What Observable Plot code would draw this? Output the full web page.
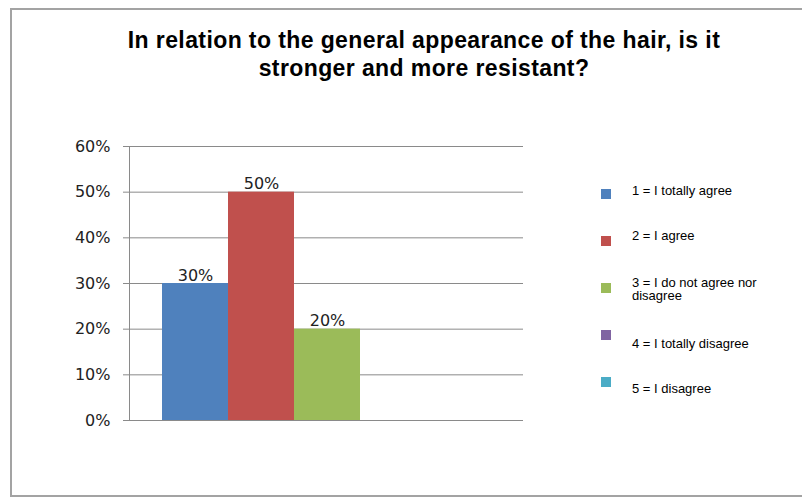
<!DOCTYPE html>
<html>
<head>
<meta charset="utf-8">
<script src="https://cdn.jsdelivr.net/npm/d3@7"></script>
<script src="https://cdn.jsdelivr.net/npm/@observablehq/plot@0.6"></script>
<style>
  html, body { margin: 0; padding: 0; background: #fff; overflow: hidden; }
  #wrap { position: relative; width: 802px; height: 498px; overflow: hidden; background: #fff; }
  #border { position: absolute; left: 10px; top: 8px; width: 830px; height: 489px;
            border: 2px solid #a3a3a3; box-sizing: border-box; }
  #title { position: absolute; left: 0; top: 26px; width: 848px; text-align: center;
           font-family: "Liberation Sans", Arial, sans-serif; font-weight: bold;
           font-size: 23px; line-height: 28px; color: #000; letter-spacing: 0.4px; }
  #chart { position: absolute; left: 0; top: 0; }
  #legend { position: absolute; left: 601px; top: 189px;
            font-family: "Liberation Sans", Arial, sans-serif; font-size: 13px; line-height: 13px; color: #000; }
  .item { position: relative; height: 47px; }
  .sw { position: absolute; left: 0; top: 0; width: 10px; height: 10px; }
  .lbl { position: absolute; left: 31px; width: 140px; }
</style>
</head>
<body>
<div id="wrap">
  <div id="border"></div>
  <div id="title"></div>
  <div id="chart"></div>
  <div id="legend"></div>
</div>
<script>
const titleLines = [
  "In relation to the general appearance of the hair, is it",
  "stronger and more resistant?"
];
const categories = [
  "1 = I totally agree",
  "2 = I agree",
  "3 = I do not agree nor disagree",
  "4 = I totally disagree",
  "5 = I disagree"
];
const values = [0.30, 0.50, 0.20, 0, 0];
const colors = ["#4f81bd", "#c0504d", "#9bbb59", "#8064a2", "#4bacc6"];
const yTicks = [0, 0.1, 0.2, 0.3, 0.4, 0.5, 0.6];

const data = categories.map((c, i) => ({category: c, value: values[i]}));
const pct = d3.format(".0%");

const titleEl = document.getElementById("title");
titleLines.forEach((t, i) => {
  if (i) titleEl.appendChild(document.createElement("br"));
  titleEl.appendChild(document.createTextNode(t));
});

const chart = Plot.plot({
  width: 802,
  height: 498,
  marginLeft: 129,
  marginRight: 279,
  marginTop: 146,
  marginBottom: 78,
  style: {fontFamily: "'DejaVu Sans', Verdana, sans-serif", fontSize: "16px", color: "#222", background: "transparent", overflow: "visible"},
  x: {domain: categories, padding: 0, insetLeft: 33, insetRight: 31, axis: null},
  y: {domain: [0, 0.6], axis: null},
  color: {domain: categories, range: colors},
  marks: [
    Plot.ruleY(yTicks, {stroke: "#8a8a8a", strokeWidth: 1, insetLeft: -6}),
    Plot.frame({anchor: "left", stroke: "#8a8a8a", strokeWidth: 1}),
    Plot.axisY({ticks: yTicks, tickFormat: pct, tickSize: 0, tickPadding: 19, fontSize: 16, fill: "#222", label: null}),
    Plot.barY(data, {x: "category", y: "value", fill: "category"}),
    Plot.text(data.filter(d => d.value > 0), {
      x: "category", y: "value", text: d => pct(d.value),
      lineAnchor: "bottom", dy: -3, fontSize: 16, fill: "#222"
    })
  ]
});
document.getElementById("chart").appendChild(chart);

// legend (HTML)
const offsets = [-5, -7, -7, 7, 5];
const legend = document.getElementById("legend");
categories.forEach((c, i) => {
  const item = document.createElement("div");
  item.className = "item";
  const sw = document.createElement("div");
  sw.className = "sw";
  sw.style.background = colors[i];
  const lbl = document.createElement("div");
  lbl.className = "lbl";
  lbl.style.top = offsets[i] + "px";
  lbl.textContent = c;
  item.appendChild(sw);
  item.appendChild(lbl);
  legend.appendChild(item);
});
</script>
</body>
</html>
